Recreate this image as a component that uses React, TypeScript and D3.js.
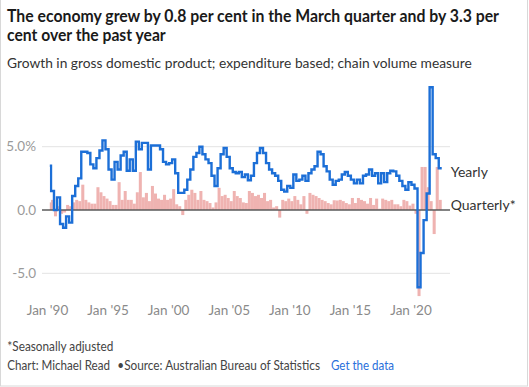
import React from 'react';
import * as d3 from 'd3';

const title1 = "The economy grew by 0.8 per cent in the March quarter and by 3.3 per";
const title2 = "cent over the past year";
const subtitle = "Growth in gross domestic product; expenditure based; chain volume measure";
const footnote = "*Seasonally adjusted";
const credit = "Chart: Michael Read";
const source = "•Source: Australian Bureau of Statistics";
const dataLink = "Get the data";

// first quarter in the series: December quarter 1989 (quarter starting Oct 1989)
const firstQuarterStart = new Date(1989, 9, 1);

// Through-the-year growth, % (Dec 1989 .. Mar 2022)
const yearly = [
  3.5, 1.5, 0.0, 1.0, -1.1, -1.4, -0.5, -1.0, 1.1, 1.9,
  2.5, 4.6, 4.6, 4.5, 3.6, 3.3, 4.1, 4.7, 5.5, 4.8,
  3.2, 2.4, 3.8, 3.2, 4.3, 4.6, 3.1, 4.0, 3.1, 5.4,
  4.8, 5.3, 5.3, 3.2, 5.1, 5.1, 5.1, 4.8, 3.8, 3.6,
  3.7, 4.0, 2.9, 1.35, 1.35, 1.6, 2.4, 3.2, 4.2, 4.5,
  5.0, 4.4, 4.0, 3.7, 2.7, 1.9, 3.3, 4.4, 4.9, 4.2,
  3.3, 3.0, 2.9, 3.0, 2.6, 2.8, 2.35, 2.7, 3.7, 4.5,
  4.9, 4.5, 3.7, 3.2, 2.9, 2.7, 2.3, 1.6, 1.45, 1.9,
  1.75, 2.8, 2.3, 2.4, 2.7, 2.3, 2.9, 3.2, 3.45, 4.6,
  4.4, 3.45, 3.05, 2.4, 2.0, 2.3, 2.4, 2.8, 3.0, 2.7,
  2.4, 2.1, 2.4, 2.1, 2.7, 2.8, 3.2, 2.7, 2.9, 2.1,
  2.9, 2.2, 2.9, 3.1, 3.05, 2.7, 2.3, 1.9, 1.6, 2.2,
  2.0, 1.7, -6.1, -3.4, -0.8, 1.3, 9.7, 4.4, 4.1, 3.3,
];

// Quarterly growth, % (Dec 1989 .. Mar 2022)
const quarterly = [
  0.6, 0.8, -0.5, 0.3, -0.3, -0.2, 0.4, 0.3, 0.6, 0.8,
  0.7, 2.0, 0.8, 0.6, 0.5, 0.5, 1.8, 1.4, 1.1, 0.9,
  0.7, 0.4, 0.4, 2.2, 0.8, 1.5, 0.8, 0.8, 0.5, 1.4,
  3.0, 1.0, 1.35, 0.7, 1.9, 1.3, 0.9, 0.8, 1.2, 0.8,
  0.9, 1.65, 0.45, 0.3, -0.4, 0.8, 1.2, 1.6, 1.35, 0.8,
  1.5, 0.8, 0.7, 0.55, 0.2, 0.6, 1.75, 1.1, 1.2, 0.95,
  0.7, 1.5, 1.1, 0.95, 0.6, 0.55, 1.5, 1.35, 1.1, 1.2,
  0.95, 1.35, 0.7, 0.8, 0.2, 0.3, -0.6, 0.8, 0.7, 0.9,
  0.7, 1.1, 0.8, 0.45, 1.1, -0.3, 1.35, 1.2, 1.1, 0.95,
  0.8, 0.7, 0.55, 0.45, 0.77, 0.75, 0.8, 0.7, 0.55, 0.45,
  0.95, 0.55, 0.95, 0.8, 0.7, 0.5, 0.95, 0.4, 0.9, 0.1,
  0.9, 0.8, 0.7, 0.8, 0.45, 0.45, 0.3, 0.8, 0.7, 0.35,
  0.5, -0.3, -6.8, 3.4, 3.4, 1.8, 0.7, -1.9, 3.4, 0.8,
];

const tickYears = [1990, 1995, 2000, 2005, 2010, 2015, 2020];
const tickLabels = ["Jan '90", "Jan '95", "Jan '00", "Jan '05", "Jan '10", "Jan '15", "Jan '20"];
const yTicks = [5, 0, -5];
const yTickLabels = ["5.0%", "0.0", "-5.0"];
const seriesLabels = ["Yearly", "Quarterly*"];

const FONT = "Lato, 'Noto Sans', sans-serif";

export default function App() {
  const W = 529;
  const H = 387;
  const x = d3
    .scaleTime()
    .domain([new Date(1990, 0, 1), new Date(2020, 0, 1)])
    .range([51, 414.5]);
  const y = d3.scaleLinear().domain([-5, 5]).range([273.3, 146.7]);

  const dates = yearly.map((_, i) => d3.timeMonth.offset(firstQuarterStart, 3 * i));
  const endDate = d3.timeMonth.offset(firstQuarterStart, 3 * yearly.length);
  const allDates = dates.concat([endDate]);

  const pts: [number, number][] = yearly.map((v, i) => [x(dates[i]), y(v)] as [number, number]);
  pts.push([x(endDate), y(yearly[yearly.length - 1])]);
  const linePath = d3.line().curve(d3.curveStepAfter)(pts) || '';

  const gridX0 = 42;
  const gridX1 = 450;
  const clipX = x(new Date(1990, 0, 1)) - 1.2;

  return (
    <svg
      width={W}
      height={H}
      style={{ position: 'absolute', left: 0, top: 0, background: '#fff' }}
      fontFamily={FONT}
    >
      <defs>
        <clipPath id="plotClip">
          <rect x={clipX} y={0} width={W - clipX} height={H} />
        </clipPath>
      </defs>
      <rect x={0.5} y={-2} width={527} height={388} fill="#fff" stroke="#d8d8d8" strokeWidth={1} />

      <text x={7} y={21.7} fontSize={16.5} fontWeight={700} fill="#1a1a1a" textLength={492} lengthAdjust="spacingAndGlyphs">
        {title1}
      </text>
      <text x={7} y={40.7} fontSize={16.5} fontWeight={700} fill="#1a1a1a" textLength={158.7} lengthAdjust="spacingAndGlyphs">
        {title2}
      </text>
      <text x={7} y={67.5} fontSize={14} fill="#333" textLength={464.7} lengthAdjust="spacingAndGlyphs">
        {subtitle}
      </text>

      {yTicks.map((t, i) => (
        <g key={t}>
          {t !== 0 && (
            <line x1={gridX0} x2={gridX1} y1={y(t)} y2={y(t)} stroke="#e3e3e3" strokeWidth={1} />
          )}
          <text x={36} y={y(t) + 4.6} fontSize={13.5} fill="#9a9a9a" textAnchor="end">
            {yTickLabels[i]}
          </text>
        </g>
      ))}

      <g clipPath="url(#plotClip)">
        {quarterly.map((v, i) => {
          const x0 = x(allDates[i]);
          const x1 = x(allDates[i + 1]);
          return (
            <rect
              key={i}
              x={x0}
              width={x1 - x0}
              y={Math.min(y(v), y(0))}
              height={Math.abs(y(v) - y(0))}
              fill="#efb3b1"
            />
          );
        })}
      </g>

      <line x1={gridX0} x2={gridX1} y1={y(0)} y2={y(0)} stroke="#5a5a5a" strokeWidth={1.5} />

      <g clipPath="url(#plotClip)">
        <path d={linePath} fill="none" stroke="#1c6fd7" strokeWidth={2.4} strokeLinejoin="miter" />
      </g>

      <text x={450.7} y={176.7} fontSize={14} fill="#333">{seriesLabels[0]}</text>
      <text x={450.7} y={209.5} fontSize={14} fill="#333">{seriesLabels[1]}</text>

      {tickYears.map((yr, i) => (
        <text key={yr} x={x(new Date(yr, 0, 1)) - 3.5} y={315} fontSize={13.5} fill="#8a8a8a" textAnchor="middle">
          {tickLabels[i]}
        </text>
      ))}

      <text x={7.3} y={350.5} fontSize={12.5} fill="#444" textLength={106} lengthAdjust="spacingAndGlyphs">
        {footnote}
      </text>
      <text x={7.3} y={369.5} fontSize={12.5} fill="#444" textLength={102.7} lengthAdjust="spacingAndGlyphs">
        {credit}
      </text>
      <text x={117.3} y={369.5} fontSize={12.5} fill="#444" textLength={202.7} lengthAdjust="spacingAndGlyphs">
        {source}
      </text>
      <text x={331} y={369.5} fontSize={12.5} fill="#2a6fdb" textLength={63} lengthAdjust="spacingAndGlyphs">
        {dataLink}
      </text>
    </svg>
  );
}
